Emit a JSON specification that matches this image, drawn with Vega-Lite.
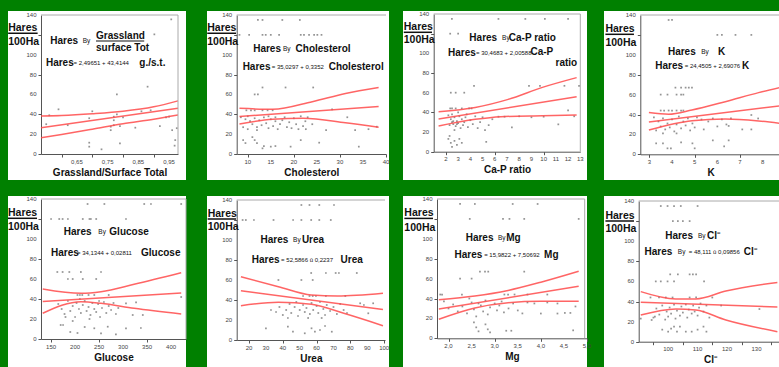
{
"$schema":"https://vega.github.io/schema/vega-lite/v6.json",
"background":"#008000",
"padding":{"left":7,"top":11,"right":0,"bottom":0},
"spacing":16,
"datasets":{
"one":[{}],
"yl":[{"v":0,"t":"0"},{"v":20,"t":"20"},{"v":40,"t":"40"},{"v":60,"t":"60"},{"v":80,"t":"80"},{"v":100,"t":"100"},{"v":140,"t":"140"}],
"x1":[{"v":0.65,"t":"0,65"},{"v":0.75,"t":"0,75"},{"v":0.85,"t":"0,85"},{"v":0.95,"t":"0,95"}],
"x2":[{"v":10,"t":"10"},{"v":15,"t":"15"},{"v":20,"t":"20"},{"v":25,"t":"25"},{"v":30,"t":"30"},{"v":35,"t":"35"},{"v":40,"t":"40"}],
"x3":[{"v":2,"t":"2"},{"v":3,"t":"3"},{"v":4,"t":"4"},{"v":5,"t":"5"},{"v":6,"t":"6"},{"v":7,"t":"7"},{"v":8,"t":"8"},{"v":9,"t":"9"},{"v":10,"t":"10"},{"v":11,"t":"11"},{"v":12,"t":"12"},{"v":13,"t":"13"}],
"x4":[{"v":3,"t":"3"},{"v":4,"t":"4"},{"v":5,"t":"5"},{"v":6,"t":"6"},{"v":7,"t":"7"},{"v":8,"t":"8"}],
"x5":[{"v":150,"t":"150"},{"v":200,"t":"200"},{"v":250,"t":"250"},{"v":300,"t":"300"},{"v":350,"t":"350"},{"v":400,"t":"400"}],
"x6":[{"v":20,"t":"20"},{"v":30,"t":"30"},{"v":40,"t":"40"},{"v":50,"t":"50"},{"v":60,"t":"60"},{"v":70,"t":"70"},{"v":80,"t":"80"},{"v":90,"t":"90"},{"v":100,"t":"100"}],
"x7":[{"v":2,"t":"2,0"},{"v":2.5,"t":"2,5"},{"v":3,"t":"3,0"},{"v":3.5,"t":"3,5"},{"v":4,"t":"4,0"},{"v":4.5,"t":"4,5"},{"v":5,"t":"5,0"}],
"x8":[{"v":100,"t":"100"},{"v":110,"t":"110"},{"v":120,"t":"120"},{"v":130,"t":"130"}],
"a1":[{"x":0.957,"y":135.6},{"x":0.902,"y":120.5},{"x":0.88,"y":67.8},{"x":0.78,"y":60},{"x":0.59,"y":45},{"x":0.56,"y":39},{"x":0.77,"y":37.6},{"x":0.77,"y":34},{"x":0.69,"y":36},{"x":0.76,"y":24},{"x":0.76,"y":27.5},{"x":0.77,"y":29},{"x":0.79,"y":28},{"x":0.84,"y":26.5},{"x":0.89,"y":44},{"x":0.92,"y":28},{"x":0.95,"y":37.6},{"x":0.96,"y":24},{"x":0.975,"y":26},{"x":0.97,"y":14},{"x":0.968,"y":8.4},{"x":0.69,"y":11.4},{"x":0.69,"y":7.4},{"x":0.73,"y":4.7},{"x":0.79,"y":10.7},{"x":0.94,"y":37},{"x":0.78,"y":40},{"x":0.8,"y":37},{"x":0.86,"y":43},{"x":0.7,"y":43},{"x":0.55,"y":30},{"x":0.62,"y":29}],
"l1":[{"b":"f","x":0.533,"y":26.5},{"b":"f","x":0.979,"y":46},{"b":"u","x":0.533,"y":38.3},{"b":"u","x":0.6,"y":38.8},{"b":"u","x":0.7,"y":40.5},{"b":"u","x":0.8,"y":43},{"b":"u","x":0.9,"y":47.5},{"b":"u","x":0.979,"y":53.5},{"b":"l","x":0.533,"y":16.4},{"b":"l","x":0.6,"y":19.7},{"b":"l","x":0.7,"y":25},{"b":"l","x":0.8,"y":30.5},{"b":"l","x":0.9,"y":35},{"b":"l","x":0.979,"y":39.3}],
"a2":[{"x":12.2,"y":135},{"x":13.2,"y":135},{"x":17.5,"y":135},{"x":21.3,"y":135},{"x":8.2,"y":120},{"x":10.3,"y":120},{"x":13.2,"y":120},{"x":13.9,"y":120},{"x":15,"y":120},{"x":16.8,"y":120},{"x":21.5,"y":120},{"x":22.2,"y":120},{"x":23.3,"y":120},{"x":24.4,"y":120},{"x":25.1,"y":120},{"x":26,"y":120},{"x":13.2,"y":67},{"x":18.2,"y":67},{"x":24.2,"y":67},{"x":11.5,"y":60},{"x":12.2,"y":60},{"x":9.7,"y":44},{"x":10.7,"y":44},{"x":11.5,"y":44},{"x":13.2,"y":44},{"x":14.3,"y":44},{"x":15.4,"y":44},{"x":28.3,"y":45},{"x":8.5,"y":37},{"x":9.5,"y":35},{"x":10,"y":38},{"x":10.5,"y":33},{"x":11,"y":30},{"x":11.5,"y":36},{"x":12,"y":27},{"x":12.5,"y":34},{"x":13,"y":29},{"x":13.5,"y":37},{"x":14,"y":31},{"x":14.5,"y":26},{"x":15,"y":35},{"x":15.5,"y":28},{"x":16,"y":33},{"x":16.5,"y":25},{"x":17,"y":30},{"x":18,"y":37},{"x":18.5,"y":27},{"x":19,"y":32},{"x":19.5,"y":26},{"x":20,"y":36},{"x":20.5,"y":30},{"x":21,"y":25},{"x":21.5,"y":38},{"x":22,"y":28},{"x":22.5,"y":33},{"x":23,"y":37},{"x":24,"y":30},{"x":9,"y":27},{"x":10,"y":25},{"x":12,"y":24},{"x":14.5,"y":38},{"x":16,"y":37},{"x":17.5,"y":34},{"x":31.6,"y":37},{"x":33.3,"y":24},{"x":36.2,"y":25},{"x":38,"y":27.5},{"x":22.6,"y":25},{"x":27,"y":24},{"x":9,"y":14},{"x":9.5,"y":11},{"x":11.5,"y":14},{"x":12,"y":11},{"x":13.2,"y":5.7},{"x":13.5,"y":8},{"x":15,"y":7.4},{"x":16,"y":8},{"x":19.3,"y":7.4},{"x":25.5,"y":11.4},{"x":34.1,"y":7.4},{"x":21.5,"y":14},{"x":11,"y":17}],
"l2":[{"b":"f","x":8.2,"y":37.8},{"b":"f","x":38.4,"y":47.9},{"b":"u","x":8.2,"y":46},{"b":"u","x":15.4,"y":45},{"b":"u","x":24,"y":52.7},{"b":"u","x":31.2,"y":61},{"b":"u","x":38.4,"y":67},{"b":"l","x":8.2,"y":30.2},{"b":"l","x":15.4,"y":35},{"b":"l","x":22,"y":36},{"b":"l","x":31.2,"y":31.5},{"b":"l","x":38.4,"y":26.9}],
"a3":[{"x":2.49,"y":135},{"x":6.3,"y":135},{"x":8.5,"y":135},{"x":10.1,"y":135},{"x":12,"y":135},{"x":2.35,"y":120},{"x":3,"y":120},{"x":4.3,"y":67},{"x":8.8,"y":67},{"x":9.7,"y":67},{"x":11.7,"y":67},{"x":12.9,"y":67},{"x":2.4,"y":60},{"x":2.8,"y":60},{"x":3.5,"y":60},{"x":2.35,"y":44},{"x":2.5,"y":44},{"x":2.8,"y":44},{"x":3.3,"y":44},{"x":3.9,"y":44},{"x":4.1,"y":44},{"x":2.2,"y":37},{"x":2.4,"y":33},{"x":2.5,"y":30},{"x":2.6,"y":28},{"x":2.7,"y":35},{"x":2.8,"y":26},{"x":2.9,"y":31},{"x":3,"y":29},{"x":3.1,"y":36},{"x":3.2,"y":24},{"x":3.3,"y":33},{"x":3.4,"y":27},{"x":3.5,"y":30},{"x":3.7,"y":38},{"x":3.8,"y":25},{"x":4,"y":32},{"x":4.2,"y":28},{"x":4.4,"y":36},{"x":4.6,"y":24},{"x":4.8,"y":30},{"x":5,"y":35},{"x":2.3,"y":27},{"x":2.5,"y":38},{"x":2.7,"y":22},{"x":3,"y":40},{"x":2.6,"y":31},{"x":2.9,"y":28},{"x":3.6,"y":35},{"x":10,"y":35.6},{"x":11.2,"y":27.8},{"x":12,"y":42},{"x":12.5,"y":36},{"x":6.3,"y":35.6},{"x":6.8,"y":35.6},{"x":7.4,"y":24.7},{"x":5.5,"y":27},{"x":5.2,"y":22},{"x":8,"y":36},{"x":9,"y":35},{"x":5.8,"y":33},{"x":2.2,"y":13},{"x":2.4,"y":9},{"x":2.5,"y":5},{"x":2.7,"y":11},{"x":2.9,"y":7},{"x":3.1,"y":13},{"x":3.3,"y":9},{"x":5.3,"y":10},{"x":2.3,"y":16}],
"l3":[{"b":"f","x":1.4,"y":33.3},{"b":"f","x":12.7,"y":55.9},{"b":"u","x":1.4,"y":40.7},{"b":"u","x":4.4,"y":45},{"b":"u","x":7.1,"y":53.2},{"b":"u","x":9.9,"y":65.4},{"b":"u","x":12.7,"y":75.3},{"b":"l","x":1.4,"y":26.1},{"b":"l","x":4.4,"y":32.9},{"b":"l","x":6.5,"y":35.6},{"b":"l","x":9.9,"y":36.6},{"b":"l","x":12.7,"y":37.3}],
"a4":[{"x":3.85,"y":135},{"x":4,"y":135},{"x":6,"y":120},{"x":6.2,"y":120},{"x":6.8,"y":120},{"x":7.5,"y":120},{"x":4.15,"y":67},{"x":4.4,"y":67},{"x":4.6,"y":67},{"x":4.74,"y":67},{"x":4.88,"y":67},{"x":3.5,"y":60},{"x":3.8,"y":60},{"x":4.2,"y":60},{"x":4.4,"y":60},{"x":4.5,"y":60},{"x":3.5,"y":44},{"x":3.65,"y":44},{"x":3.85,"y":44},{"x":4,"y":44},{"x":4.2,"y":44},{"x":4.4,"y":44},{"x":4.5,"y":44},{"x":3.2,"y":37},{"x":3.4,"y":33},{"x":3.5,"y":28},{"x":3.6,"y":36},{"x":3.7,"y":25},{"x":3.8,"y":31},{"x":3.9,"y":27},{"x":4,"y":35},{"x":4.1,"y":23},{"x":4.2,"y":30},{"x":4.3,"y":38},{"x":4.4,"y":26},{"x":4.5,"y":33},{"x":4.6,"y":29},{"x":4.7,"y":36},{"x":4.8,"y":24},{"x":4.9,"y":31},{"x":5,"y":27},{"x":5.1,"y":37},{"x":5.3,"y":35},{"x":5.4,"y":25},{"x":5.6,"y":33},{"x":5.8,"y":36},{"x":6,"y":28},{"x":6.2,"y":35},{"x":6.4,"y":30},{"x":6.6,"y":36},{"x":3.3,"y":24},{"x":3.6,"y":21},{"x":4.2,"y":21},{"x":7.5,"y":39.5},{"x":7.8,"y":36},{"x":7.1,"y":25},{"x":7.5,"y":25},{"x":6.5,"y":28.5},{"x":3.3,"y":11},{"x":3.6,"y":11},{"x":3.8,"y":6},{"x":3.95,"y":6},{"x":4.9,"y":11},{"x":5,"y":6},{"x":5.8,"y":14},{"x":6.3,"y":8},{"x":6.5,"y":14},{"x":4.4,"y":12}],
"l4":[{"b":"f","x":2.98,"y":32.5},{"b":"f","x":8.78,"y":48.8},{"b":"u","x":2.98,"y":41.9},{"b":"u","x":3.85,"y":40.2},{"b":"u","x":4.88,"y":44.5},{"b":"u","x":6.35,"y":52.9},{"b":"u","x":7.82,"y":62},{"b":"u","x":8.78,"y":67.3},{"b":"l","x":2.98,"y":24.4},{"b":"l","x":4.88,"y":33.8},{"b":"l","x":6.35,"y":35.5},{"b":"l","x":7.82,"y":33.5},{"b":"l","x":8.78,"y":31.1}],
"a5":[{"x":226,"y":135},{"x":261,"y":135},{"x":344,"y":135},{"x":358,"y":135},{"x":421,"y":135},{"x":150,"y":120},{"x":167,"y":120},{"x":174,"y":120},{"x":185,"y":120},{"x":216,"y":120},{"x":230,"y":120},{"x":233,"y":120},{"x":244,"y":120},{"x":306,"y":120},{"x":163,"y":67},{"x":174,"y":67},{"x":188,"y":67},{"x":212,"y":67},{"x":254,"y":67},{"x":185,"y":60},{"x":195,"y":60},{"x":216,"y":60},{"x":244,"y":60},{"x":205,"y":44},{"x":210,"y":44},{"x":215,"y":44},{"x":228,"y":44},{"x":240,"y":44},{"x":270,"y":44},{"x":165,"y":35},{"x":172,"y":30},{"x":178,"y":25},{"x":185,"y":38},{"x":190,"y":28},{"x":195,"y":33},{"x":200,"y":22},{"x":203,"y":36},{"x":208,"y":30},{"x":212,"y":26},{"x":216,"y":34},{"x":220,"y":38},{"x":224,"y":28},{"x":228,"y":32},{"x":232,"y":24},{"x":236,"y":36},{"x":240,"y":30},{"x":244,"y":27},{"x":248,"y":35},{"x":252,"y":22},{"x":256,"y":31},{"x":260,"y":37},{"x":265,"y":26},{"x":270,"y":33},{"x":275,"y":29},{"x":280,"y":36},{"x":285,"y":25},{"x":290,"y":31},{"x":170,"y":14},{"x":195,"y":18},{"x":180,"y":22},{"x":230,"y":20},{"x":250,"y":38},{"x":210,"y":40},{"x":306,"y":35.7},{"x":327,"y":36.7},{"x":320,"y":24},{"x":341,"y":24},{"x":421,"y":42},{"x":254,"y":5.7},{"x":240,"y":10.7},{"x":268,"y":12.3},{"x":285,"y":4.7},{"x":306,"y":10.7},{"x":337,"y":11},{"x":190,"y":7},{"x":220,"y":12},{"x":175,"y":14},{"x":205,"y":6}],
"l5":[{"b":"f","x":132.6,"y":37.6},{"b":"f","x":421,"y":45.9},{"b":"u","x":132.6,"y":50},{"b":"u","x":212.5,"y":45.7},{"b":"u","x":254,"y":47.3},{"b":"u","x":323,"y":54.7},{"b":"u","x":421,"y":66.3},{"b":"l","x":132.6,"y":25.7},{"b":"l","x":212.5,"y":37.3},{"b":"l","x":254,"y":35.7},{"b":"l","x":323,"y":30.7},{"b":"l","x":421,"y":25}],
"a6":[{"x":51,"y":135},{"x":55.8,"y":135},{"x":61.6,"y":135},{"x":70.3,"y":135},{"x":16.2,"y":120},{"x":18.1,"y":120},{"x":22.9,"y":120},{"x":34.5,"y":120},{"x":46.1,"y":120},{"x":51,"y":120},{"x":56.8,"y":120},{"x":61.6,"y":120},{"x":68.4,"y":120},{"x":56.8,"y":67},{"x":65.5,"y":67},{"x":71.3,"y":67},{"x":73.2,"y":67},{"x":83.8,"y":67},{"x":37.4,"y":60},{"x":51,"y":60},{"x":57.7,"y":60},{"x":52,"y":44},{"x":55.8,"y":44},{"x":57.7,"y":44},{"x":59.6,"y":44},{"x":65.5,"y":44},{"x":77,"y":44},{"x":33,"y":30},{"x":36,"y":28},{"x":38,"y":33},{"x":40,"y":25},{"x":42,"y":30},{"x":44,"y":36},{"x":45,"y":27},{"x":47,"y":33},{"x":48,"y":38},{"x":49,"y":24},{"x":50,"y":30},{"x":52,"y":35},{"x":53,"y":28},{"x":54,"y":32},{"x":56,"y":26},{"x":57,"y":37},{"x":58,"y":30},{"x":60,"y":34},{"x":61,"y":27},{"x":62,"y":38},{"x":64,"y":31},{"x":65,"y":25},{"x":66,"y":35},{"x":68,"y":29},{"x":70,"y":33},{"x":72,"y":26},{"x":74,"y":36},{"x":76,"y":30},{"x":78,"y":27},{"x":43,"y":22},{"x":55,"y":22},{"x":63,"y":22},{"x":85.8,"y":36.7},{"x":90.6,"y":26.7},{"x":93.5,"y":36.7},{"x":88,"y":35},{"x":30,"y":11.7},{"x":43,"y":13.3},{"x":46,"y":8.3},{"x":53,"y":6.7},{"x":57,"y":11.7},{"x":59,"y":8.3},{"x":62,"y":10},{"x":69,"y":8.3},{"x":65,"y":14}],
"l6":[{"b":"f","x":15.2,"y":49.2},{"b":"f","x":99.3,"y":30.4},{"b":"u","x":15.2,"y":63.3},{"b":"u","x":37.4,"y":53.3},{"b":"u","x":56.9,"y":45},{"b":"u","x":72.3,"y":44},{"b":"u","x":99.3,"y":46.7},{"b":"l","x":15.2,"y":34.3},{"b":"l","x":37.4,"y":37.7},{"b":"l","x":56.9,"y":35.7},{"b":"l","x":76.1,"y":26.7},{"b":"l","x":99.3,"y":14.3}],
"a7":[{"x":2.25,"y":135},{"x":2.57,"y":135},{"x":3.39,"y":135},{"x":3.93,"y":135},{"x":2.46,"y":120},{"x":3.18,"y":120},{"x":3.32,"y":120},{"x":3.64,"y":120},{"x":4.82,"y":120},{"x":2.68,"y":67},{"x":2.79,"y":67},{"x":2.86,"y":67},{"x":3.64,"y":67},{"x":2.25,"y":60},{"x":2.5,"y":60},{"x":1.82,"y":44},{"x":1.86,"y":44},{"x":2.29,"y":44},{"x":3.21,"y":44},{"x":3.29,"y":44},{"x":3.43,"y":44},{"x":3.71,"y":44},{"x":4.14,"y":44},{"x":1.9,"y":37},{"x":2,"y":30},{"x":2.1,"y":34},{"x":2.2,"y":27},{"x":2.3,"y":32},{"x":2.4,"y":25},{"x":2.5,"y":36},{"x":2.55,"y":29},{"x":2.6,"y":22},{"x":2.7,"y":33},{"x":2.75,"y":27},{"x":2.8,"y":38},{"x":2.85,"y":24},{"x":2.9,"y":31},{"x":3,"y":35},{"x":3.05,"y":28},{"x":3.1,"y":33},{"x":3.15,"y":37},{"x":3.2,"y":26},{"x":3.3,"y":30},{"x":3.4,"y":35},{"x":3.5,"y":28},{"x":2.45,"y":40},{"x":2.65,"y":35},{"x":3.71,"y":36},{"x":3.86,"y":35},{"x":4.14,"y":36},{"x":4.36,"y":24.9},{"x":4,"y":24.9},{"x":4.52,"y":25.5},{"x":4.64,"y":25.5},{"x":4.75,"y":32},{"x":4.36,"y":35},{"x":3.6,"y":25},{"x":2.55,"y":16},{"x":2.6,"y":11},{"x":2.65,"y":7},{"x":2.8,"y":14},{"x":2.85,"y":9},{"x":2.9,"y":6},{"x":3.25,"y":7.6},{"x":3.36,"y":7.6},{"x":4.7,"y":8}],
"l7":[{"b":"f","x":1.79,"y":29.4},{"b":"f","x":4.82,"y":52.2},{"b":"u","x":1.79,"y":38.8},{"b":"u","x":2.57,"y":42.5},{"b":"u","x":3.29,"y":48.1},{"b":"u","x":4,"y":56.4},{"b":"u","x":4.82,"y":67.4},{"b":"l","x":1.79,"y":19.2},{"b":"l","x":2.57,"y":30.5},{"b":"l","x":3.29,"y":35.8},{"b":"l","x":4,"y":37.2},{"b":"l","x":4.82,"y":37.2}],
"a8":[{"x":97.5,"y":135},{"x":99.8,"y":135},{"x":102,"y":135},{"x":104.3,"y":135},{"x":110,"y":135},{"x":101.6,"y":120},{"x":103.3,"y":120},{"x":105,"y":120},{"x":107.3,"y":120},{"x":100.7,"y":67},{"x":103.3,"y":67},{"x":107.3,"y":67},{"x":108.4,"y":67},{"x":109.5,"y":67},{"x":95.8,"y":60},{"x":97.5,"y":60},{"x":99.8,"y":60},{"x":102,"y":60},{"x":112.2,"y":60},{"x":94,"y":44},{"x":96.9,"y":44},{"x":99.2,"y":44},{"x":101.5,"y":44},{"x":107.3,"y":44},{"x":109.5,"y":44},{"x":115,"y":44},{"x":95,"y":24},{"x":96,"y":33},{"x":97,"y":27},{"x":98,"y":36},{"x":99,"y":22},{"x":99.5,"y":30},{"x":100,"y":25},{"x":100.5,"y":34},{"x":101,"y":28},{"x":102,"y":37},{"x":102.5,"y":23},{"x":103,"y":31},{"x":104,"y":26},{"x":104.5,"y":35},{"x":105,"y":29},{"x":106,"y":37},{"x":106.5,"y":24},{"x":107,"y":32},{"x":108,"y":28},{"x":108.5,"y":36},{"x":109,"y":30},{"x":110,"y":26},{"x":110.5,"y":34},{"x":111,"y":38},{"x":112,"y":30},{"x":113,"y":36},{"x":114,"y":24},{"x":90.7,"y":23},{"x":94.4,"y":21.6},{"x":95.5,"y":25},{"x":131,"y":32.5},{"x":118,"y":36},{"x":100,"y":10},{"x":101,"y":13},{"x":102,"y":15},{"x":103,"y":10},{"x":104,"y":15},{"x":106,"y":10},{"x":108,"y":10},{"x":110,"y":12},{"x":112,"y":15},{"x":113,"y":10},{"x":98,"y":12}],
"l8":[{"b":"f","x":90.7,"y":39.2},{"b":"f","x":137.1,"y":34.6},{"b":"u","x":90.7,"y":49.8},{"b":"u","x":102.6,"y":42.5},{"b":"u","x":109.4,"y":42.5},{"b":"u","x":119.6,"y":50.4},{"b":"u","x":137.1,"y":59},{"b":"l","x":90.7,"y":26.5},{"b":"l","x":102.6,"y":32.5},{"b":"l","x":109.4,"y":31.5},{"b":"l","x":119.6,"y":21.6},{"b":"l","x":137.1,"y":10}]
},
"vconcat":[
{"spacing":13,"hconcat":[
{"bounds":"flush","spacing":21,"hconcat":[
{"width":178,"height":169,
"layer":[
{"data":{"name":"a1"},"mark":{"type":"square","size":3,"color":"#666"},"encoding":{"x":{"field":"x","type":"quantitative","scale":{"domain":[0.533,0.979],"range":[33,170],"nice":false,"zero":false},"axis":{"offset":-26,"labels":false,"titlePadding":9.5,"values":[0.6,0.65,0.7,0.75,0.8,0.85,0.9,0.95],"title":"Grassland/Surface Total"}},
"y":{"field":"y","type":"quantitative","scale":{"domain":[0,140],"range":[143,4],"nice":false,"zero":false},"axis":{"offset":-33,"labels":false,"values":[0,10,20,30,40,50,60,70,80,90,100,110,120,130,140],"title":null}}}},
{"data":{"name":"l1"},"mark":{"type":"line","color":"#ff4a4a","strokeWidth":1.5,"opacity":0.85,"interpolate":"monotone"},"encoding":{"x":{"field":"x","type":"quantitative"},"y":{"field":"y","type":"quantitative"},"detail":{"field":"b"}}},
{"data":{"name":"yl"},"mark":{"type":"text","align":"right","fontSize":6,"color":"#444"},"encoding":{"x":{"datum":0.5184},"y":{"field":"v","type":"quantitative"},"text":{"field":"t"}}},
{"data":{"name":"x1"},"mark":{"type":"text","align":"center","baseline":"top","fontSize":6,"color":"#444"},"encoding":{"x":{"field":"v","type":"quantitative"},"y":{"datum":-4.6},"text":{"field":"t"}}},
{"data":{"name":"one"},"mark":{"type":"rule","color":"#aaa"},"encoding":{"x":{"datum":0.533},"x2":{"datum":0.979},"y":{"datum":140}}},
{"data":{"name":"one"},"mark":{"type":"rule","color":"#aaa"},"encoding":{"x":{"datum":0.979},"y":{"datum":0},"y2":{"datum":140}}},
{"data":{"name":"one"},"mark":{"type":"text","text":"Hares","fontWeight":"bold","fontSize":10.5},"encoding":{"x":{"datum":0.426},"y":{"datum":126.6}}},
{"data":{"name":"one"},"mark":{"type":"text","text":"100Ha","fontWeight":"bold","fontSize":10.5},"encoding":{"x":{"datum":0.426},"y":{"datum":113.1}}},
{"data":{"name":"one"},"mark":{"type":"rule","color":"#111","strokeWidth":1.5},"encoding":{"x":{"datum":0.426},"x2":{"datum":0.522},"y":{"datum":121.6}}},
{"data":{"name":"one"},"mark":{"type":"text","text":"Hares","fontWeight":"bold","fontSize":10},"encoding":{"x":{"datum":0.563},"y":{"datum":113.8}}},
{"data":{"name":"one"},"mark":{"type":"text","text":"By","fontSize":6.5},"encoding":{"x":{"datum":0.669},"y":{"datum":113.8}}},
{"data":{"name":"one"},"mark":{"type":"text","text":"Grassland","fontWeight":"bold","fontSize":10},"encoding":{"x":{"datum":0.712},"y":{"datum":118.8}}},
{"data":{"name":"one"},"mark":{"type":"rule","color":"#111","strokeWidth":1.2},"encoding":{"x":{"datum":0.712},"x2":{"datum":0.869},"y":{"datum":113.8}}},
{"data":{"name":"one"},"mark":{"type":"text","text":"surface Tot","fontWeight":"bold","fontSize":10},"encoding":{"x":{"datum":0.712},"y":{"datum":106.5}}},
{"data":{"name":"one"},"mark":{"type":"text","text":"Hares","fontWeight":"bold","fontSize":10},"encoding":{"x":{"datum":0.549},"y":{"datum":92}}},
{"data":{"name":"one"},"mark":{"type":"text","text":"= 2,49651 + 43,4144","fontSize":6},"encoding":{"x":{"datum":0.639},"y":{"datum":92}}},
{"data":{"name":"one"},"mark":{"type":"text","text":"g./s.t.","fontWeight":"bold","fontSize":10},"encoding":{"x":{"datum":0.853},"y":{"datum":92}}}
]},
{"width":182,"height":169,
"layer":[
{"data":{"name":"a2"},"mark":{"type":"square","size":3,"color":"#666"},"encoding":{"x":{"field":"x","type":"quantitative","scale":{"domain":[7.6,40],"range":[29.7,179],"nice":false,"zero":false},"axis":{"offset":-26,"labels":false,"titlePadding":9.5,"values":[10,15,20,25,30,35,40],"title":"Cholesterol"}},
"y":{"field":"y","type":"quantitative","scale":{"domain":[0,140],"range":[143,4],"nice":false,"zero":false},"axis":{"offset":-29.7,"labels":false,"values":[0,10,20,30,40,50,60,70,80,90,100,110,120,130,140],"title":null}}}},
{"data":{"name":"l2"},"mark":{"type":"line","color":"#ff4a4a","strokeWidth":1.5,"opacity":0.85,"interpolate":"monotone"},"encoding":{"x":{"field":"x","type":"quantitative"},"y":{"field":"y","type":"quantitative"},"detail":{"field":"b"}}},
{"data":{"name":"yl"},"mark":{"type":"text","align":"right","fontSize":6,"color":"#444"},"encoding":{"x":{"datum":6.623},"y":{"field":"v","type":"quantitative"},"text":{"field":"t"}}},
{"data":{"name":"x2"},"mark":{"type":"text","align":"center","baseline":"top","fontSize":6,"color":"#444"},"encoding":{"x":{"field":"v","type":"quantitative"},"y":{"datum":-4.6},"text":{"field":"t"}}},
{"data":{"name":"one"},"mark":{"type":"rule","color":"#aaa"},"encoding":{"x":{"datum":7.6},"x2":{"datum":40},"y":{"datum":140}}},
{"data":{"name":"one"},"mark":{"type":"text","text":"Hares","fontWeight":"bold","fontSize":10.5},"encoding":{"x":{"datum":1.2},"y":{"datum":126.6}}},
{"data":{"name":"one"},"mark":{"type":"text","text":"100Ha","fontWeight":"bold","fontSize":10.5},"encoding":{"x":{"datum":1.2},"y":{"datum":113.1}}},
{"data":{"name":"one"},"mark":{"type":"rule","color":"#111","strokeWidth":1.5},"encoding":{"x":{"datum":1.2},"x2":{"datum":7.45},"y":{"datum":121.6}}},
{"data":{"name":"one"},"mark":{"type":"text","text":"Hares","fontWeight":"bold","fontSize":10},"encoding":{"x":{"datum":11.18},"y":{"datum":105.5}}},
{"data":{"name":"one"},"mark":{"type":"text","text":"By","fontSize":6.5},"encoding":{"x":{"datum":17.64},"y":{"datum":105.5}}},
{"data":{"name":"one"},"mark":{"type":"text","text":"Cholesterol","fontWeight":"bold","fontSize":10},"encoding":{"x":{"datum":20.38},"y":{"datum":105.5}}},
{"data":{"name":"one"},"mark":{"type":"text","text":"Hares","fontWeight":"bold","fontSize":10},"encoding":{"x":{"datum":8.89},"y":{"datum":87.3}}},
{"data":{"name":"one"},"mark":{"type":"text","text":"= 35,0297 + 0,3352","fontSize":6},"encoding":{"x":{"datum":15.21},"y":{"datum":87.3}}},
{"data":{"name":"one"},"mark":{"type":"text","text":"Cholesterol","fontWeight":"bold","fontSize":10},"encoding":{"x":{"datum":27.56},"y":{"datum":87.3}}}
]}
]},
{"bounds":"flush","spacing":17,"hconcat":[
{"width":184,"height":169,
"layer":[
{"data":{"name":"a3"},"mark":{"type":"square","size":3,"color":"#666"},"encoding":{"x":{"field":"x","type":"quantitative","scale":{"domain":[1,13],"range":[30.7,177.3],"nice":false,"zero":false},"axis":{"offset":-28.3,"labels":false,"titlePadding":9.5,"values":[2,3,4,5,6,7,8,9,10,11,12,13],"title":"Ca-P ratio"}},
"y":{"field":"y","type":"quantitative","scale":{"domain":[0,140],"range":[140.7,3],"nice":false,"zero":false},"axis":{"offset":-30.7,"labels":false,"values":[0,10,20,30,40,50,60,70,80,90,100,110,120,130,140],"title":null}}}},
{"data":{"name":"l3"},"mark":{"type":"line","color":"#ff4a4a","strokeWidth":1.5,"opacity":0.85,"interpolate":"monotone"},"encoding":{"x":{"field":"x","type":"quantitative"},"y":{"field":"y","type":"quantitative"},"detail":{"field":"b"}}},
{"data":{"name":"yl"},"mark":{"type":"text","align":"right","fontSize":6,"color":"#444"},"encoding":{"x":{"datum":0.632},"y":{"field":"v","type":"quantitative"},"text":{"field":"t"}}},
{"data":{"name":"x3"},"mark":{"type":"text","align":"center","baseline":"top","fontSize":6,"color":"#444"},"encoding":{"x":{"field":"v","type":"quantitative"},"y":{"datum":-4.7},"text":{"field":"t"}}},
{"data":{"name":"one"},"mark":{"type":"rule","color":"#aaa"},"encoding":{"x":{"datum":1},"x2":{"datum":13},"y":{"datum":140}}},
{"data":{"name":"one"},"mark":{"type":"rule","color":"#aaa"},"encoding":{"x":{"datum":13},"y":{"datum":0},"y2":{"datum":140}}},
{"data":{"name":"one"},"mark":{"type":"text","text":"Hares","fontWeight":"bold","fontSize":10.5},"encoding":{"x":{"datum":-1.45},"y":{"datum":127.1}}},
{"data":{"name":"one"},"mark":{"type":"text","text":"100Ha","fontWeight":"bold","fontSize":10.5},"encoding":{"x":{"datum":-1.45},"y":{"datum":113.6}}},
{"data":{"name":"one"},"mark":{"type":"rule","color":"#111","strokeWidth":1.5},"encoding":{"x":{"datum":-1.45},"x2":{"datum":0.86},"y":{"datum":121.4}}},
{"data":{"name":"one"},"mark":{"type":"text","text":"Hares","fontWeight":"bold","fontSize":10},"encoding":{"x":{"datum":3.92},"y":{"datum":115.9}}},
{"data":{"name":"one"},"mark":{"type":"text","text":"By","fontSize":6.5},"encoding":{"x":{"datum":6.6},"y":{"datum":115.9}}},
{"data":{"name":"one"},"mark":{"type":"text","text":"Ca-P ratio","fontWeight":"bold","fontSize":10},"encoding":{"x":{"datum":7.15},"y":{"datum":115.9}}},
{"data":{"name":"one"},"mark":{"type":"text","text":"Hares","fontWeight":"bold","fontSize":10},"encoding":{"x":{"datum":2.17},"y":{"datum":100}}},
{"data":{"name":"one"},"mark":{"type":"text","text":"= 30,4683 + 2,00588","fontSize":6},"encoding":{"x":{"datum":4.47},"y":{"datum":100}}},
{"data":{"name":"one"},"mark":{"type":"text","text":"Ca-P","fontWeight":"bold","fontSize":10},"encoding":{"x":{"datum":8.92},"y":{"datum":101}}},
{"data":{"name":"one"},"mark":{"type":"text","text":"ratio","fontWeight":"bold","fontSize":10},"encoding":{"x":{"datum":10.97},"y":{"datum":89.9}}}
]},
{"width":177,"height":169,
"layer":[
{"data":{"name":"a4"},"mark":{"type":"square","size":3,"color":"#666"},"encoding":{"x":{"field":"x","type":"quantitative","scale":{"domain":[2.6,8.8],"range":[36.3,176.8],"nice":false,"zero":false},"axis":{"offset":-25.7,"labels":false,"titlePadding":9.5,"values":[3,3.5,4,4.5,5,5.5,6,6.5,7,7.5,8,8.5],"title":"K"}},
"y":{"field":"y","type":"quantitative","scale":{"domain":[0,140],"range":[143.3,4],"nice":false,"zero":false},"axis":{"offset":-36.3,"labels":false,"values":[0,10,20,30,40,50,60,70,80,90,100,110,120,130,140],"title":null}}}},
{"data":{"name":"l4"},"mark":{"type":"line","color":"#ff4a4a","strokeWidth":1.5,"opacity":0.85,"interpolate":"monotone"},"encoding":{"x":{"field":"x","type":"quantitative"},"y":{"field":"y","type":"quantitative"},"detail":{"field":"b"}}},
{"data":{"name":"yl"},"mark":{"type":"text","align":"right","fontSize":6,"color":"#444"},"encoding":{"x":{"datum":2.401},"y":{"field":"v","type":"quantitative"},"text":{"field":"t"}}},
{"data":{"name":"x4"},"mark":{"type":"text","align":"center","baseline":"top","fontSize":6,"color":"#444"},"encoding":{"x":{"field":"v","type":"quantitative"},"y":{"datum":-4.6},"text":{"field":"t"}}},
{"data":{"name":"one"},"mark":{"type":"rule","color":"#aaa"},"encoding":{"x":{"datum":2.6},"x2":{"datum":8.8},"y":{"datum":140}}},
{"data":{"name":"one"},"mark":{"type":"text","text":"Hares","fontWeight":"bold","fontSize":10.5},"encoding":{"x":{"datum":1.06},"y":{"datum":125.6}}},
{"data":{"name":"one"},"mark":{"type":"text","text":"100Ha","fontWeight":"bold","fontSize":10.5},"encoding":{"x":{"datum":1.06},"y":{"datum":112.2}}},
{"data":{"name":"one"},"mark":{"type":"rule","color":"#111","strokeWidth":1.5},"encoding":{"x":{"datum":1.06},"x2":{"datum":2.32},"y":{"datum":120.6}}},
{"data":{"name":"one"},"mark":{"type":"text","text":"Hares","fontWeight":"bold","fontSize":10},"encoding":{"x":{"datum":3.82},"y":{"datum":103.1}}},
{"data":{"name":"one"},"mark":{"type":"text","text":"By","fontSize":6.5},"encoding":{"x":{"datum":5.29},"y":{"datum":103.1}}},
{"data":{"name":"one"},"mark":{"type":"text","text":"K","fontWeight":"bold","fontSize":10},"encoding":{"x":{"datum":6.03},"y":{"datum":103.1}}},
{"data":{"name":"one"},"mark":{"type":"text","text":"Hares","fontWeight":"bold","fontSize":10},"encoding":{"x":{"datum":3.26},"y":{"datum":88.7}}},
{"data":{"name":"one"},"mark":{"type":"text","text":"= 24,4505 + 2,69076","fontSize":6},"encoding":{"x":{"datum":4.56},"y":{"datum":88.7}}},
{"data":{"name":"one"},"mark":{"type":"text","text":"K","fontWeight":"bold","fontSize":10},"encoding":{"x":{"datum":7.09},"y":{"datum":88.7}}}
]}
]}
]},
{"spacing":13,"hconcat":[
{"bounds":"flush","spacing":21,"hconcat":[
{"width":178,"height":171,
"layer":[
{"data":{"name":"a5"},"mark":{"type":"square","size":3,"color":"#666"},"encoding":{"x":{"field":"x","type":"quantitative","scale":{"domain":[129,431],"range":[33,178],"nice":false,"zero":false},"axis":{"offset":-28,"labels":false,"titlePadding":9.5,"values":[150,175,200,225,250,275,300,325,350,375,400,425],"title":"Glucose"}},
"y":{"field":"y","type":"quantitative","scale":{"domain":[0,140],"range":[143,3],"nice":false,"zero":false},"axis":{"offset":-33,"labels":false,"values":[0,10,20,30,40,50,60,70,80,90,100,110,120,130,140],"title":null}}}},
{"data":{"name":"l5"},"mark":{"type":"line","color":"#ff4a4a","strokeWidth":1.5,"opacity":0.85,"interpolate":"monotone"},"encoding":{"x":{"field":"x","type":"quantitative"},"y":{"field":"y","type":"quantitative"},"detail":{"field":"b"}}},
{"data":{"name":"yl"},"mark":{"type":"text","align":"right","fontSize":6,"color":"#444"},"encoding":{"x":{"datum":119.6},"y":{"field":"v","type":"quantitative"},"text":{"field":"t"}}},
{"data":{"name":"x5"},"mark":{"type":"text","align":"center","baseline":"top","fontSize":6,"color":"#444"},"encoding":{"x":{"field":"v","type":"quantitative"},"y":{"datum":-4.5},"text":{"field":"t"}}},
{"data":{"name":"one"},"mark":{"type":"rule","color":"#aaa"},"encoding":{"x":{"datum":129},"x2":{"datum":431},"y":{"datum":140}}},
{"data":{"name":"one"},"mark":{"type":"rule","color":"#aaa"},"encoding":{"x":{"datum":431},"y":{"datum":0},"y2":{"datum":140}}},
{"data":{"name":"one"},"mark":{"type":"text","text":"Hares","fontWeight":"bold","fontSize":10.5},"encoding":{"x":{"datum":60.25},"y":{"datum":126.3}}},
{"data":{"name":"one"},"mark":{"type":"text","text":"100Ha","fontWeight":"bold","fontSize":10.5},"encoding":{"x":{"datum":60.25},"y":{"datum":112.3}}},
{"data":{"name":"one"},"mark":{"type":"rule","color":"#111","strokeWidth":1.5},"encoding":{"x":{"datum":60.25},"x2":{"datum":120.7},"y":{"datum":120.7}}},
{"data":{"name":"one"},"mark":{"type":"text","text":"Hares","fontWeight":"bold","fontSize":10},"encoding":{"x":{"datum":176.3},"y":{"datum":107.3}}},
{"data":{"name":"one"},"mark":{"type":"text","text":"By","fontSize":6.5},"encoding":{"x":{"datum":248.4},"y":{"datum":107.3}}},
{"data":{"name":"one"},"mark":{"type":"text","text":"Glucose","fontWeight":"bold","fontSize":10},"encoding":{"x":{"datum":271.3},"y":{"datum":107.3}}},
{"data":{"name":"one"},"mark":{"type":"text","text":"Hares","fontWeight":"bold","fontSize":10},"encoding":{"x":{"datum":149.8},"y":{"datum":85.7}}},
{"data":{"name":"one"},"mark":{"type":"text","text":"= 34,1344 + 0,02811","fontSize":6},"encoding":{"x":{"datum":204},"y":{"datum":85.7}}},
{"data":{"name":"one"},"mark":{"type":"text","text":"Glucose","fontWeight":"bold","fontSize":10},"encoding":{"x":{"datum":337.3},"y":{"datum":85.7}}}
]},
{"width":182,"height":171,
"layer":[
{"data":{"name":"a6"},"mark":{"type":"square","size":3,"color":"#666"},"encoding":{"x":{"field":"x","type":"quantitative","scale":{"domain":[12.7,100.5],"range":[29.7,178],"nice":false,"zero":false},"axis":{"offset":-27,"labels":false,"titlePadding":9.5,"values":[20,30,40,50,60,70,80,90,100],"title":"Urea"}},
"y":{"field":"y","type":"quantitative","scale":{"domain":[0,140],"range":[144,4],"nice":false,"zero":false},"axis":{"offset":-29.7,"labels":false,"values":[0,10,20,30,40,50,60,70,80,90,100,110,120,130,140],"title":null}}}},
{"data":{"name":"l6"},"mark":{"type":"line","color":"#ff4a4a","strokeWidth":1.5,"opacity":0.85,"interpolate":"monotone"},"encoding":{"x":{"field":"x","type":"quantitative"},"y":{"field":"y","type":"quantitative"},"detail":{"field":"b"}}},
{"data":{"name":"yl"},"mark":{"type":"text","align":"right","fontSize":6,"color":"#444"},"encoding":{"x":{"datum":10.04},"y":{"field":"v","type":"quantitative"},"text":{"field":"t"}}},
{"data":{"name":"x6"},"mark":{"type":"text","align":"center","baseline":"top","fontSize":6,"color":"#444"},"encoding":{"x":{"field":"v","type":"quantitative"},"y":{"datum":-4.5},"text":{"field":"t"}}},
{"data":{"name":"one"},"mark":{"type":"rule","color":"#aaa"},"encoding":{"x":{"datum":12.7},"x2":{"datum":100.5},"y":{"datum":140}}},
{"data":{"name":"one"},"mark":{"type":"text","text":"Hares","fontWeight":"bold","fontSize":10.5},"encoding":{"x":{"datum":-4.5},"y":{"datum":125.7}}},
{"data":{"name":"one"},"mark":{"type":"text","text":"100Ha","fontWeight":"bold","fontSize":10.5},"encoding":{"x":{"datum":-4.5},"y":{"datum":112.7}}},
{"data":{"name":"one"},"mark":{"type":"rule","color":"#111","strokeWidth":1.5},"encoding":{"x":{"datum":-4.5},"x2":{"datum":12.3},"y":{"datum":121}}},
{"data":{"name":"one"},"mark":{"type":"text","text":"Hares","fontWeight":"bold","fontSize":10},"encoding":{"x":{"datum":26.8},"y":{"datum":100}}},
{"data":{"name":"one"},"mark":{"type":"text","text":"By","fontSize":6.5},"encoding":{"x":{"datum":46.1},"y":{"datum":100}}},
{"data":{"name":"one"},"mark":{"type":"text","text":"Urea","fontWeight":"bold","fontSize":10},"encoding":{"x":{"datum":51.3},"y":{"datum":100}}},
{"data":{"name":"one"},"mark":{"type":"text","text":"Hares","fontWeight":"bold","fontSize":10},"encoding":{"x":{"datum":21.6},"y":{"datum":80}}},
{"data":{"name":"one"},"mark":{"type":"text","text":"= 52,5866 û 0,2237","fontSize":6},"encoding":{"x":{"datum":39},"y":{"datum":80}}},
{"data":{"name":"one"},"mark":{"type":"text","text":"Urea","fontWeight":"bold","fontSize":10},"encoding":{"x":{"datum":74.2},"y":{"datum":80}}}
]}
]},
{"bounds":"flush","spacing":17,"hconcat":[
{"width":184,"height":171,
"layer":[
{"data":{"name":"a7"},"mark":{"type":"square","size":3,"color":"#666"},"encoding":{"x":{"field":"x","type":"quantitative","scale":{"domain":[1.75,5],"range":[34,184],"nice":false,"zero":false},"axis":{"offset":-28.7,"labels":false,"titlePadding":9.5,"values":[2,2.5,3,3.5,4,4.5,5],"title":"Mg"}},
"y":{"field":"y","type":"quantitative","scale":{"domain":[0,140],"range":[142.3,3],"nice":false,"zero":false},"axis":{"offset":-34,"labels":false,"values":[0,10,20,30,40,50,60,70,80,90,100,110,120,130,140],"title":null}}}},
{"data":{"name":"l7"},"mark":{"type":"line","color":"#ff4a4a","strokeWidth":1.5,"opacity":0.85,"interpolate":"monotone"},"encoding":{"x":{"field":"x","type":"quantitative"},"y":{"field":"y","type":"quantitative"},"detail":{"field":"b"}}},
{"data":{"name":"yl"},"mark":{"type":"text","align":"right","fontSize":6,"color":"#444"},"encoding":{"x":{"datum":1.652},"y":{"field":"v","type":"quantitative"},"text":{"field":"t"}}},
{"data":{"name":"x7"},"mark":{"type":"text","align":"center","baseline":"top","fontSize":6,"color":"#444"},"encoding":{"x":{"field":"v","type":"quantitative"},"y":{"datum":-4.5},"text":{"field":"t"}}},
{"data":{"name":"one"},"mark":{"type":"rule","color":"#aaa"},"encoding":{"x":{"datum":1.75},"x2":{"datum":4.95},"y":{"datum":140}}},
{"data":{"name":"one"},"mark":{"type":"rule","color":"#aaa"},"encoding":{"x":{"datum":4.95},"y":{"datum":0},"y2":{"datum":140}}},
{"data":{"name":"one"},"mark":{"type":"text","text":"Hares","fontWeight":"bold","fontSize":10.5},"encoding":{"x":{"datum":1.043},"y":{"datum":126.1}}},
{"data":{"name":"one"},"mark":{"type":"text","text":"100Ha","fontWeight":"bold","fontSize":10.5},"encoding":{"x":{"datum":1.043},"y":{"datum":111.2}}},
{"data":{"name":"one"},"mark":{"type":"rule","color":"#111","strokeWidth":1.5},"encoding":{"x":{"datum":1.043},"x2":{"datum":1.664},"y":{"datum":120.5}}},
{"data":{"name":"one"},"mark":{"type":"text","text":"Hares","fontWeight":"bold","fontSize":10},"encoding":{"x":{"datum":2.371},"y":{"datum":100.6}}},
{"data":{"name":"one"},"mark":{"type":"text","text":"By","fontSize":6.5},"encoding":{"x":{"datum":3.072},"y":{"datum":100.6}}},
{"data":{"name":"one"},"mark":{"type":"text","text":"Mg","fontWeight":"bold","fontSize":10},"encoding":{"x":{"datum":3.25},"y":{"datum":100.6}}},
{"data":{"name":"one"},"mark":{"type":"text","text":"Hares","fontWeight":"bold","fontSize":10},"encoding":{"x":{"datum":2.129},"y":{"datum":83.7}}},
{"data":{"name":"one"},"mark":{"type":"text","text":"= 15,9822 + 7,50692","fontSize":6},"encoding":{"x":{"datum":2.772},"y":{"datum":83.7}}},
{"data":{"name":"one"},"mark":{"type":"text","text":"Mg","fontWeight":"bold","fontSize":10},"encoding":{"x":{"datum":4.07},"y":{"datum":83.7}}}
]},
{"width":177,"height":171,
"layer":[
{"data":{"name":"a8"},"mark":{"type":"square","size":3,"color":"#666"},"encoding":{"x":{"field":"x","type":"quantitative","scale":{"domain":[90,138.5],"range":[34.7,177.5],"nice":false,"zero":false},"axis":{"offset":-25.3,"labels":false,"titlePadding":9.5,"values":[95,100,105,110,115,120,125,130,135],"title":"Cl⁻"}},
"y":{"field":"y","type":"quantitative","scale":{"domain":[0,140],"range":[145.7,5],"nice":false,"zero":false},"axis":{"offset":-34.7,"labels":false,"values":[0,10,20,30,40,50,60,70,80,90,100,110,120,130,140],"title":null}}}},
{"data":{"name":"l8"},"mark":{"type":"line","color":"#ff4a4a","strokeWidth":1.5,"opacity":0.85,"interpolate":"monotone"},"encoding":{"x":{"field":"x","type":"quantitative"},"y":{"field":"y","type":"quantitative"},"detail":{"field":"b"}}},
{"data":{"name":"yl"},"mark":{"type":"text","align":"right","fontSize":6,"color":"#444"},"encoding":{"x":{"datum":88.47},"y":{"field":"v","type":"quantitative"},"text":{"field":"t"}}},
{"data":{"name":"x8"},"mark":{"type":"text","align":"center","baseline":"top","fontSize":6,"color":"#444"},"encoding":{"x":{"field":"v","type":"quantitative"},"y":{"datum":-4.5},"text":{"field":"t"}}},
{"data":{"name":"one"},"mark":{"type":"rule","color":"#aaa"},"encoding":{"x":{"datum":90},"x2":{"datum":138.5},"y":{"datum":140}}},
{"data":{"name":"one"},"mark":{"type":"text","text":"Hares","fontWeight":"bold","fontSize":10.5},"encoding":{"x":{"datum":78.7},"y":{"datum":125.1}}},
{"data":{"name":"one"},"mark":{"type":"text","text":"100Ha","fontWeight":"bold","fontSize":10.5},"encoding":{"x":{"datum":78.7},"y":{"datum":111.8}}},
{"data":{"name":"one"},"mark":{"type":"rule","color":"#111","strokeWidth":1.5},"encoding":{"x":{"datum":78.7},"x2":{"datum":88.4},"y":{"datum":120.1}}},
{"data":{"name":"one"},"mark":{"type":"text","text":"Hares","fontWeight":"bold","fontSize":10},"encoding":{"x":{"datum":99},"y":{"datum":105.4}}},
{"data":{"name":"one"},"mark":{"type":"text","text":"By","fontSize":6.5},"encoding":{"x":{"datum":110.1},"y":{"datum":105.4}}},
{"data":{"name":"one"},"mark":{"type":"text","text":"Cl⁻","fontWeight":"bold","fontSize":10},"encoding":{"x":{"datum":113.2},"y":{"datum":105.4}}},
{"data":{"name":"one"},"mark":{"type":"text","text":"Hares","fontWeight":"bold","fontSize":10},"encoding":{"x":{"datum":92},"y":{"datum":89.6}}},
{"data":{"name":"one"},"mark":{"type":"text","text":"By","fontSize":6.5},"encoding":{"x":{"datum":103.3},"y":{"datum":89.6}}},
{"data":{"name":"one"},"mark":{"type":"text","text":"= 48,111 û 0,09856","fontSize":6},"encoding":{"x":{"datum":107},"y":{"datum":89.6}}},
{"data":{"name":"one"},"mark":{"type":"text","text":"Cl⁻","fontWeight":"bold","fontSize":10},"encoding":{"x":{"datum":125.7},"y":{"datum":89.6}}}
]}
]}
]}
],
"config":{
"view":{"fill":"white","stroke":null},
"axis":{"tickColor":"#555","domainColor":"#555","tickSize":3,"grid":false,"titleFont":"Liberation Sans","titleFontSize":10,"titleFontWeight":"bold","titleColor":"#111"},
"text":{"font":"Liberation Sans","align":"left","baseline":"middle","color":"#111"}
}
}
